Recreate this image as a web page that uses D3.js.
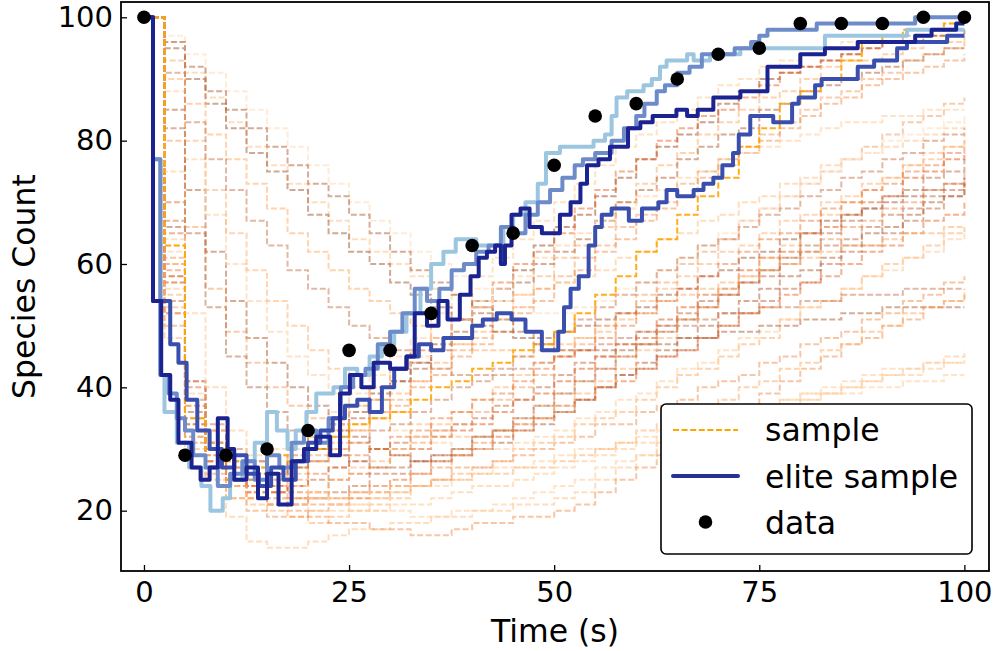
<!DOCTYPE html>
<html>
<head>
<meta charset="utf-8">
<script src="https://cdn.jsdelivr.net/npm/d3@7"></script>
<style>
  body { margin: 0; background: #fff; }
  text { font-family: "DejaVu Sans", sans-serif; }
</style>
</head>
<body>
<div id="chart"></div>
<script>
// observed data points
var dataTimes  = [0, 5, 10, 15, 20, 25, 30, 35, 40, 45, 50, 55, 60, 65, 70, 75, 80, 85, 90, 95, 100];
var dataCounts = [100, 29, 29, 30, 33, 46, 46, 52, 63, 65, 76, 84, 86, 90, 94, 95, 99, 99, 99, 100, 100];

var xTicks = [0, 25, 50, 75, 100];
var yTicks = [20, 40, 60, 80, 100];

// sample trajectories, read on a 2.5 s grid
var sampleTimes = [0, 2.5, 5, 7.5, 10, 12.5, 15, 17.5, 20, 22.5, 25, 27.5, 30, 32.5, 35, 37.5, 40, 42.5, 45, 47.5,
                   50, 52.5, 55, 57.5, 60, 62.5, 65, 67.5, 70, 72.5, 75, 77.5, 80, 82.5, 85, 87.5, 90, 92.5, 95, 97.5, 100];
var sampleValues = [
  [100,58,36,31,27,25,26,28,30,33,36,39,41,44,47,51,54,56,59,63,66,68,71,74,77,79,81,83,86,88,90,91,92,93,94,95,96,96,97,97,98],
  [100,70,41,33,29,28,27,29,32,34,37,40,43,46,48,51,53,57,60,62,65,69,72,75,77,80,82,84,85,87,89,91,92,93,94,95,96,97,97,98,98],
  [100,55,33,28,25,23,24,26,28,30,33,36,39,41,44,47,49,52,55,58,61,63,66,70,73,76,78,81,83,85,87,88,90,92,93,93,94,95,96,96,97],
  [100,66,38,31,28,26,25,27,30,32,35,38,41,43,46,49,52,54,57,60,62,64,67,70,72,74,77,79,81,82,85,86,88,89,90,91,92,93,94,95,95],
  [100,60,35,30,26,25,24,25,28,30,33,35,37,40,42,45,47,49,52,54,57,59,62,64,67,69,71,74,76,78,80,82,84,86,87,89,90,91,92,93,94],
  [100,52,31,27,26,28,30,31,33,36,39,42,45,48,52,55,58,61,64,67,70,73,76,79,81,83,85,87,89,90,92,93,94,95,96,96,97,98,98,99,99],
  [100,52,32,27,24,22,21,22,23,25,26,27,29,30,32,33,34,36,38,39,41,43,45,47,48,51,53,55,56,59,61,62,65,66,68,70,71,74,75,77,78],
  [100,57,34,28,25,23,22,21,22,23,24,26,26,28,29,30,32,33,34,35,37,38,40,42,43,45,46,48,50,52,54,56,57,60,62,63,65,67,69,71,73],
  [100,60,36,29,25,22,20,19,18,19,20,21,22,24,25,26,27,28,30,31,32,34,35,36,38,40,42,43,45,47,48,51,53,54,56,58,60,61,63,65,66],
  [100,50,31,26,22,20,19,19,20,21,22,22,23,24,25,27,27,28,29,30,31,32,34,34,36,37,38,40,41,42,44,45,47,48,49,51,52,54,55,57,58],
  [100,62,38,31,27,24,22,21,20,20,21,22,23,24,24,25,26,27,27,28,29,30,30,31,32,33,33,34,35,36,36,37,38,39,39,40,40,41,41,42,42],
  [100,56,33,25,19,15,14,14,15,16,17,17,18,18,19,19,20,20,21,21,22,23,25,27,29,31,32,33,34,35,36,37,38,39,40,41,42,43,44,45,46],
  [100,65,40,33,29,26,24,23,22,22,23,24,25,26,28,29,30,32,33,35,36,38,40,41,43,45,46,48,50,52,53,55,57,58,60,62,63,65,67,68,70],
  [100,54,33,28,25,24,23,24,25,27,28,30,31,32,33,34,35,37,38,40,42,44,45,47,49,50,52,54,55,57,58,60,62,63,64,66,68,69,71,72,74],
  [100,58,37,30,26,23,21,20,19,18,18,17,17,16,16,17,18,18,19,19,20,21,23,25,27,29,31,33,35,37,39,41,43,45,47,48,50,51,53,54,55],
  [100,48,30,25,22,21,21,22,23,25,27,28,30,32,34,36,38,40,42,44,46,48,50,52,54,56,58,60,62,63,65,67,68,70,71,73,74,76,77,79,80],
  [100,85,72,62,54,48,44,40,37,34,32,30,29,28,28,29,30,31,33,34,36,38,40,42,44,46,48,50,52,54,56,58,59,61,63,65,66,68,70,71,73],
  [100,80,66,56,49,44,40,37,35,33,31,30,30,31,32,34,36,38,40,42,45,47,50,52,55,57,60,62,64,67,69,71,73,75,77,79,81,83,84,86,87],
  [100,88,77,68,60,54,49,45,42,39,37,35,33,32,31,30,30,30,31,32,33,35,36,38,39,41,43,44,46,48,49,51,53,54,56,58,59,61,62,64,65],
  [100,90,80,72,65,59,54,50,46,43,40,38,36,34,33,32,32,33,34,35,37,39,41,43,46,48,51,53,56,58,61,63,65,68,70,72,74,76,78,79,81],
  [100,96,91,87,83,79,76,73,70,67,64,62,60,58,56,55,54,54,55,56,57,58,59,61,62,64,65,67,68,70,71,73,74,76,77,78,79,80,81,82,83],
  [100,95,90,86,82,78,75,72,68,65,62,60,57,55,53,51,50,49,48,48,49,50,51,52,53,55,56,58,59,61,62,64,65,67,68,69,70,71,72,73,74],
  [100,93,86,81,77,73,69,65,62,59,56,54,52,50,48,47,46,46,45,46,47,48,49,51,52,54,55,56,57,58,59,60,61,62,63,63,64,65,65,66,66],
  [100,91,83,77,72,67,63,59,56,53,50,48,46,44,43,42,42,42,43,44,45,46,47,48,49,50,50,51,52,52,53,53,54,54,55,55,55,56,56,56,56],
  [100,97,94,91,88,85,82,79,76,73,70,67,65,62,60,58,56,54,53,52,52,53,54,56,57,59,61,63,65,67,69,71,73,75,77,78,80,81,82,83,84],
  [100,96,92,88,85,82,79,76,73,71,68,65,62,59,57,55,53,51,49,47,46,46,46,46,47,47,48,48,49,49,50,50,51,51,52,52,53,53,53,53,53],
  [100,64,39,33,29,27,25,24,23,22,21,20,20,19,19,20,20,21,22,23,24,25,27,28,29,31,32,34,35,36,37,38,39,40,41,42,43,43,44,44,45],
  [100,61,37,31,27,25,23,22,21,21,22,23,24,26,27,29,31,33,35,37,39,41,43,45,47,49,51,53,55,57,59,61,62,64,66,67,69,70,72,73,75],
  [100,63,35,30,28,27,29,30,32,34,37,40,43,45,48,51,53,56,58,61,63,65,67,69,71,72,74,75,77,78,79,80,81,82,83,83,84,84,85,85,85],
  [100,59,34,29,26,24,23,24,26,27,29,30,32,33,35,36,38,39,41,43,45,46,48,50,52,54,56,58,60,62,64,65,67,69,70,72,73,75,76,78,79],
  [100,53,32,27,24,22,21,21,22,22,23,23,24,24,25,25,26,26,27,27,28,29,30,31,33,34,35,37,38,40,41,43,44,46,47,49,50,52,53,54,56],
  [100,67,41,34,30,28,27,27,28,29,31,33,34,36,38,40,41,43,45,47,49,51,53,55,57,59,61,63,64,66,68,69,71,72,74,75,77,78,80,81,82],
  [100,57,33,28,25,24,25,27,29,31,34,36,38,41,43,46,48,51,53,56,58,61,63,66,68,70,73,75,77,79,81,83,85,87,88,90,91,93,94,95,96],
  [100,75,52,40,33,29,26,24,22,21,20,20,21,21,22,23,24,24,25,26,27,28,29,30,31,32,33,34,35,36,37,38,39,39,40,41,42,42,43,44,44],
  [100,82,65,53,45,40,36,33,31,29,28,27,27,28,29,30,32,33,35,37,39,41,43,45,47,49,51,53,55,57,59,61,63,65,67,69,71,72,74,75,77],
  [100,63,35,30,28,27,29,28,30,32,34,35,36,38,40,41,43,44,46,47,49,52,55,58,62,64,68,71,74,79,82,86,88,90,93,96,97,98,98,99,99]
];
var sampleColors = ["#a0522d","#e6550d","#fdae6b","#b5673f","#f28e4b","#fdd0a2","#e6550d","#c8714a","#fdae6b","#f28e4b",
                    "#fdd0a2","#fdd0a2","#e6550d","#c8714a","#f28e4b","#fdae6b","#b5673f","#f28e4b","#fdd0a2","#fdae6b",
                    "#fdd0a2","#a0522d","#fdae6b","#c8714a","#fee6ce","#b5673f","#fdd0a2","#f28e4b","#fdd0a2","#e6550d",
                    "#fdae6b","#c8714a","#f28e4b","#fdd0a2","#b5673f","#ffa500"];
var sampleOpacity = [0.55,0.45,0.55,0.55,0.5,0.6,0.5,0.55,0.55,0.5,0.6,0.7,0.45,0.55,0.5,0.5,0.55,0.45,0.6,0.5,
                     0.7,0.5,0.55,0.5,0.8,0.55,0.6,0.5,0.6,0.4,0.55,0.5,0.45,0.65,0.5,0.9];

// elite samples as [time, count] change points
var eliteNavy = [[0,100],[1.1,54],[2.1,42],[3.2,38],[4.2,31],[5.8,27],[6.9,25],[8,27],[9,35],[10.2,30],[11,25],[12.5,27],
  [13.9,22],[15,26],[16.4,21],[18,28],[19.5,30],[21,32],[22.7,29],[23.9,39],[25.1,42],[26.5,40],[28,44],[30,43],[32,45],
  [33,52],[34.5,50],[35.9,54],[37,51],[38.5,55],[39.8,58],[40.8,61],[41.8,62],[42.8,63],[43.5,60],[44,63],[44.8,68],
  [45.9,69],[47,66],[48.5,65],[50.7,68],[52,70],[53.2,73],[54,76],[55.4,77],[56.8,79],[59,82],[60.5,83],[62,84],
  [64.9,85],[66.2,84],[67.5,85],[69.4,87],[72.7,88],[76,92],[80,94],[83,95],[87,96],[94,97],[96,98],[99,99],[100,99]];
var eliteRoyal = [[0,100],[1.1,54],[3.2,47],[4.2,44],[5.2,38],[6.5,33],[8,30],[9.5,27],[11,29],[12.5,26],[14,24],[15.5,27],
  [17,25],[18.5,28],[20,31],[21.5,33],[23,35],[24.5,37],[26,38],[27.5,36],[29,40],[30.5,43],[32,45],[33.5,47],[35,46],
  [36.5,48],[38,48],[40,50],[41.3,51],[43,52],[44.8,51],[46.5,49],[48.5,46],[50.5,49],[51.2,53],[52,56],[53,58],[54.2,63],
  [55,66],[55.8,68],[57,69],[59.1,67],[60.7,69],[62.7,70],[63.7,72],[65,71],[67,72],[68.2,73],[69.4,74],[70.5,76],
  [71.8,78],[72.5,81],[73.9,84],[76.7,83],[79,86],[79.8,87],[81.8,89],[82.6,90],[85,90],[87,92],[89,93],[91.8,95],
  [93,96],[97.9,97],[100,97]];
var eliteCornflower = [[0,100],[1.1,77],[2,42],[3,39],[4,35],[5,33],[6,29],[7.5,27],[9,24],[10.5,26],[12,28],[13.5,25],
  [15,29],[16.5,27],[18,31],[19.5,33],[21,31],[22.5,35],[24,40],[25.5,42],[27,43],[28.5,47],[30,49],[31.5,52],[33,56],
  [34.5,54],[36,56],[37.5,59],[39,60],[40.5,62],[42,63],[43.5,66],[45,65],[46.5,68],[48,70],[49.5,72],[51,74],[52.5,76],
  [53.5,77],[55,78],[57,80],[58.5,82],[60,84],[61,86],[62.5,88],[63.5,89],[65,91],[66.5,92],[68,94],[72,95],[74,96],
  [75,97],[76,98],[82,99],[94,100],[100,100]];
var eliteLight = [[0,100],[1.1,77],[2,42],[2.5,36],[4,31],[5.5,27],[7,24],[8.1,20],[9.6,22],[10.5,25],[12,28],[13.5,31],[15,36],
  [16.2,33],[17.5,30],[18.5,33],[19.8,36],[21,39],[23.1,40],[24.5,43],[26,42],[27.5,45],[29,47],[30.5,49],[32,52],
  [33.7,56],[35,60],[36.5,62],[38,64],[40.5,63],[43.8,66],[45,68],[46.5,70],[48,73],[49,78],[50.7,79],[54.8,80],
  [56.2,81],[57,84],[57.6,87],[58.9,88],[60.9,89],[61.9,90],[62.9,92],[63.7,93],[66.2,94],[67,93],[69,94],[72.7,95],
  [83,97],[93,98],[100,98]];
// drawn back to front: lightest first, navy on top
var eliteLines = [eliteLight, eliteCornflower, eliteRoyal, eliteNavy];
var eliteColors = ["#9cc6e0", "#6d8bc9", "#3a4fad", "#1b2390"];

function drawChart() {
    var w = 1004, h = 651;
    var padL = 121, padR = 989, padT = 2, padB = 571;

    var svg = d3.select("#chart").append("svg")
        .attr("width", w)
        .attr("height", h);

    var xScale = d3.scaleLinear().domain([-2.8, 103]).range([padL, padR]);
    var yScale = d3.scaleLinear().domain([10.22, 102.48]).range([padB, padT]);

    svg.append("defs").append("clipPath").attr("id", "plotClip")
        .append("rect")
        .attr("x", padL).attr("y", padT)
        .attr("width", padR - padL).attr("height", padB - padT);

    var plot = svg.append("g").attr("clip-path", "url(#plotClip)");

    var stepLine = d3.line()
        .x(function(d) { return xScale(d[0]); })
        .y(function(d) { return yScale(d[1]); })
        .curve(d3.curveStepAfter);

    // samples (dashed orange)
    sampleValues.forEach(function(vals, i) {
        var pts = vals.map(function(v, j) { return [sampleTimes[j], v]; });
        plot.append("path")
            .datum(pts)
            .attr("d", stepLine)
            .attr("fill", "none")
            .attr("stroke", sampleColors[i])
            .attr("stroke-opacity", sampleOpacity[i])
            .attr("stroke-width", 2)
            .attr("stroke-dasharray", "6,2.6");
    });

    // elite samples (solid blue)
    eliteLines.forEach(function(pts, i) {
        plot.append("path")
            .datum(pts)
            .attr("d", stepLine)
            .attr("fill", "none")
            .attr("stroke", eliteColors[i])
            .attr("stroke-width", 4)
            .attr("stroke-linejoin", "round");
    });

    // data points
    plot.selectAll("circle.data")
        .data(dataTimes)
        .enter().append("circle")
        .attr("class", "data")
        .attr("cx", function(d) { return xScale(d); })
        .attr("cy", function(d, i) { return yScale(dataCounts[i]); })
        .attr("r", 6.8)
        .attr("fill", "#000");

    // axes, ticks pointing inward
    var xAxis = d3.axisBottom(xScale).tickValues(xTicks).tickSizeInner(-6).tickSizeOuter(0).tickPadding(10);
    var yAxis = d3.axisLeft(yScale).tickValues(yTicks).tickSizeInner(-6).tickSizeOuter(0).tickPadding(8);

    var gx = svg.append("g").attr("transform", "translate(0," + padB + ")").call(xAxis);
    var gy = svg.append("g").attr("transform", "translate(" + padL + ",0)").call(yAxis);
    [gx, gy].forEach(function(g) {
        g.select(".domain").remove();
        g.selectAll("line").attr("stroke", "#000").attr("stroke-width", 1.3);
        g.selectAll("text").attr("font-size", 29).attr("fill", "#000")
            .attr("font-family", "DejaVu Sans");
    });

    svg.append("rect")
        .attr("x", padL).attr("y", padT)
        .attr("width", padR - padL).attr("height", padB - padT)
        .attr("fill", "none")
        .attr("stroke", "#000")
        .attr("stroke-width", 1.8);

    svg.append("text")
        .attr("x", (padL + padR) / 2)
        .attr("y", 642)
        .attr("text-anchor", "middle")
        .attr("font-size", 31.5)
        .text("Time (s)");

    svg.append("text")
        .attr("transform", "translate(35," + (padT + padB) / 2 + ") rotate(-90)")
        .attr("text-anchor", "middle")
        .attr("font-size", 31.5)
        .text("Species Count");

    // legend
    var lg = svg.append("g");
    lg.append("rect")
        .attr("x", 661).attr("y", 404)
        .attr("width", 311).attr("height", 150)
        .attr("rx", 5)
        .attr("fill", "#fff")
        .attr("stroke", "#000")
        .attr("stroke-width", 1.6);
    lg.append("line")
        .attr("x1", 673).attr("x2", 738).attr("y1", 430).attr("y2", 430)
        .attr("stroke", "#ffa500").attr("stroke-width", 2).attr("stroke-dasharray", "6,2.6");
    lg.append("line")
        .attr("x1", 673).attr("x2", 738).attr("y1", 476).attr("y2", 476)
        .attr("stroke", "#27309a").attr("stroke-width", 4).attr("stroke-linecap", "round");
    lg.append("circle")
        .attr("cx", 705.5).attr("cy", 522).attr("r", 6.8).attr("fill", "#000");
    var legendLabels = ["sample", "elite sample", "data"];
    lg.selectAll("text.lab")
        .data(legendLabels)
        .enter().append("text")
        .attr("class", "lab")
        .attr("x", 765)
        .attr("y", function(d, i) { return 441 + i * 46.5; })
        .attr("font-size", 31.5)
        .text(function(d) { return d; });
}
window.onload = drawChart;
</script>
</body>
</html>
